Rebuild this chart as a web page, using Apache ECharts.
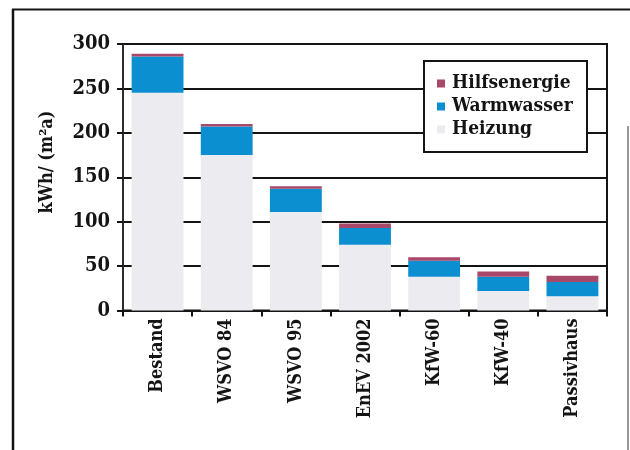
<!DOCTYPE html>
<html>
<head>
<meta charset="utf-8">
<script src="https://cdn.jsdelivr.net/npm/echarts@6/dist/echarts.min.js"></script>
<style>
  html, body { margin: 0; padding: 0; background: #fff; }
  #chart { width: 630px; height: 450px; }
</style>
</head>
<body>
<div id="chart"></div>
<script>
// Building standards and their yearly energy demand per m² of living area
const categories = ['Bestand', 'WSVO 84', 'WSVO 95', 'EnEV 2002', 'KfW-60', 'KfW-40', 'Passivhaus'];
const heizung = [245, 175, 111, 74, 38, 22, 16];
const warmwasser = [41, 32, 26, 19, 18, 16, 16];
const hilfsenergie = [3, 3, 3, 5, 4, 6, 7];
const yTicks = { min: 0, max: 300, step: 50 };
const unitLabel = 'kWh/ (m²a)';

const FONT = "'DejaVu Serif Condensed', 'DejaVu Serif', serif";
const INK = '#141414';

const chart = echarts.init(document.getElementById('chart'), null, { renderer: 'canvas' });

chart.setOption({
  animation: false,
  backgroundColor: '#ffffff',
  grid: {
    left: 123, top: 44, right: 23, bottom: 139.5,
    show: true, borderColor: INK, borderWidth: 2, backgroundColor: 'transparent'
  },
  legend: {
    orient: 'vertical',
    left: 437, top: 74,
    padding: 0,
    itemWidth: 8, itemHeight: 8, itemGap: 4,
    icon: 'rect',
    z: 5,
    data: ['Hilfsenergie', 'Warmwasser', 'Heizung'],
    textStyle: { fontFamily: FONT, fontWeight: 'bold', fontSize: 19, lineHeight: 18, color: INK, padding: [0, 0, 0, 2] }
  },
  xAxis: {
    type: 'category',
    data: categories,
    axisLine: { lineStyle: { color: INK, width: 2 } },
    axisTick: { show: true, alignWithLabel: false, length: 6, lineStyle: { color: INK, width: 2 } },
    axisLabel: { rotate: 90, margin: 8, interval: 0, fontFamily: FONT, fontWeight: 'bold', fontSize: 18, color: INK },
    splitLine: { show: false }
  },
  yAxis: {
    type: 'value',
    min: yTicks.min, max: yTicks.max, interval: yTicks.step,
    axisLine: { show: true, lineStyle: { color: '#333', width: 1.5 } },
    axisTick: { show: true, length: 6, lineStyle: { color: INK, width: 2 } },
    axisLabel: { margin: 13, fontFamily: FONT, fontWeight: 'bold', fontSize: 20, color: INK },
    splitLine: { show: true, lineStyle: { color: INK, width: 2 } }
  },
  series: [
    {
      name: 'Heizung', type: 'bar', stack: 'total', barWidth: '75%',
      itemStyle: { color: '#ececf0' }, data: heizung
    },
    {
      name: 'Warmwasser', type: 'bar', stack: 'total',
      itemStyle: { color: '#0b8fd0' }, data: warmwasser
    },
    {
      name: 'Hilfsenergie', type: 'bar', stack: 'total',
      itemStyle: { color: '#a8496a' }, data: hilfsenergie
    }
  ],
  graphic: [
    // legend frame
    { type: 'rect', z: 3, shape: { x: 424, y: 61, width: 163, height: 91 },
      style: { fill: '#fff', stroke: INK, lineWidth: 2 } },
    // outer frame
    { type: 'line', z: 1, shape: { x1: 13, y1: 9, x2: 13, y2: 450 }, style: { stroke: INK, lineWidth: 2.5 } },
    { type: 'line', z: 1, shape: { x1: 12, y1: 9.5, x2: 630, y2: 9.5 }, style: { stroke: INK, lineWidth: 2 } },
    { type: 'line', z: 1, shape: { x1: 628, y1: 126, x2: 628, y2: 450 }, style: { stroke: '#555', lineWidth: 1.2 } },
    // unit label of the value axis
    { type: 'text', z: 3, x: 47, y: 162, rotation: Math.PI / 2,
      style: { text: unitLabel, fontFamily: FONT, fontWeight: 'bold', fontSize: 18, fill: INK,
               align: 'center', verticalAlign: 'middle' } }
  ]
});
</script>
</body>
</html>
